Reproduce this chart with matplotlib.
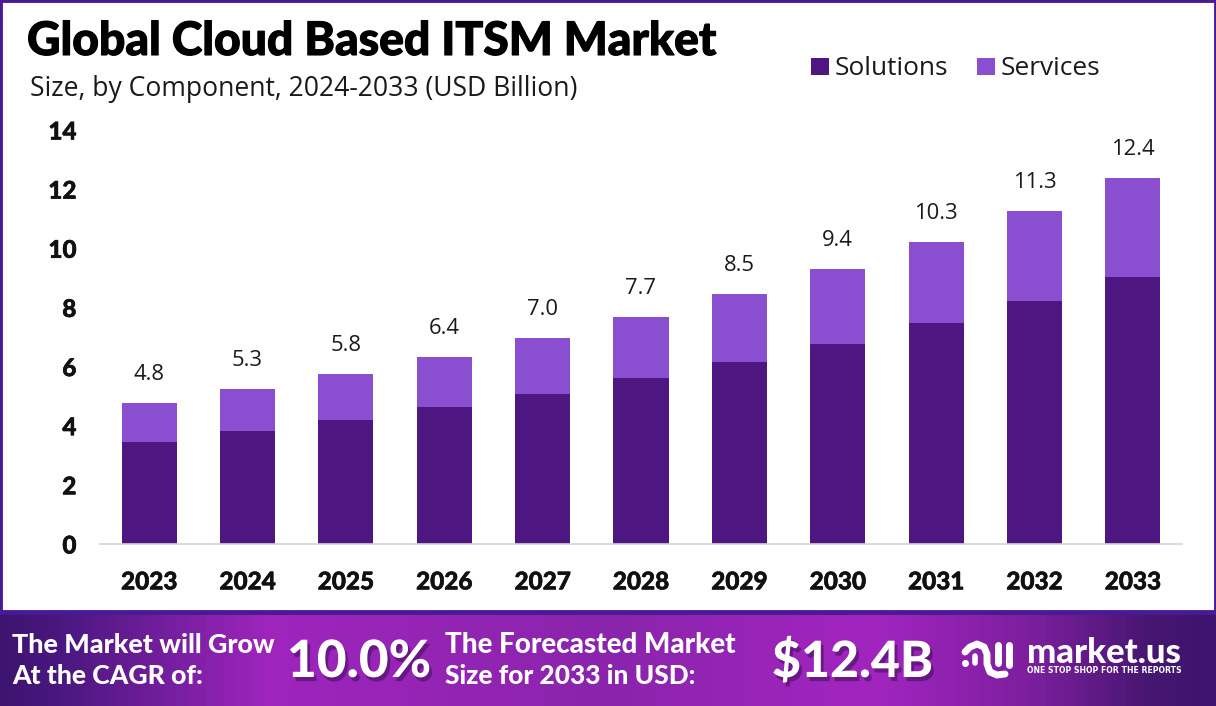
import numpy as np
import matplotlib
matplotlib.use("Agg")
import matplotlib.pyplot as plt
import matplotlib.patheffects as pe
from matplotlib.colors import LinearSegmentedColormap
from matplotlib.patches import Rectangle

years = ["2023","2024","2025","2026","2027","2028","2029","2030","2031","2032","2033"]
solutions = [3.45,3.82,4.19,4.63,5.07,5.61,6.15,6.76,7.47,8.22,9.03]
services = [1.32,1.42,1.56,1.69,1.90,2.07,2.30,2.54,2.74,3.04,3.35]
totals = ["4.8","5.3","5.8","6.4","7.0","7.7","8.5","9.4","10.3","11.3","12.4"]
yticks = [0,2,4,6,8,10,12,14]

W, H = 1216, 706
plt.rcParams['font.family'] = ['Lato', 'DejaVu Sans']
fig = plt.figure(figsize=(W/100, H/100), dpi=100, facecolor='white')

def fx(x): return x/W
def fy(y): return 1-y/H

ax = fig.add_axes([fx(100), fy(544), (1182-100)/W, (544-130)/H])
x = np.arange(len(years))
ax.bar(x, solutions, width=0.56, color='#4e1680', label='Solutions')
ax.bar(x, services, width=0.56, bottom=solutions, color='#8a4fd0', label='Services')
for xi, s, v, t in zip(x, solutions, services, totals):
    ax.text(xi, s+v+0.78, t, ha='center', va='baseline', fontsize=15.8, color='#1a1a1a', family=['Open Sans'])
ax.set_xlim(-0.5, 10.5)
ax.set_ylim(0, 14)
ax.set_yticks(yticks)
ax.set_xticks(x, years)
for side in ['top','left','right']:
    ax.spines[side].set_visible(False)
ax.spines['bottom'].set_color('#d4d4d4')
ax.spines['bottom'].set_linewidth(1.2)
ax.tick_params(length=0)
ax.tick_params(axis='x', pad=19, labelsize=17.5)
ax.tick_params(axis='y', pad=17, labelsize=17.5)
for l in ax.get_xticklabels()+ax.get_yticklabels():
    l.set_fontweight('black'); l.set_color('#111111')
    l.set_path_effects([pe.withStroke(linewidth=0.4, foreground='#111111')])

title = fig.text(fx(27), fy(55), "Global Cloud Based ITSM Market", fontsize=33.3, fontweight='black', color='black', va='baseline')
title.set_path_effects([pe.withStroke(linewidth=0.8, foreground='black')])
fig.text(fx(30), fy(96), "Size, by Component, 2024-2033 (USD Billion)", fontsize=19.1, color='#1a1a1a', va='baseline', family=['Open Sans'])

# legend
for px, c, name in [(811,'#4e1680','Solutions'),(977,'#8a4fd0','Services')]:
    fig.add_artist(Rectangle((fx(px), fy(75)), 18/W, 17/H, transform=fig.transFigure, color=c, lw=0))
    fig.text(fx(px+24), fy(75), name, fontsize=18.9, color='#1a1a1a', va='baseline', family=['Open Sans'])

# banner
bax = fig.add_axes([0, 0, 1, (H-612)/H])
cm = LinearSegmentedColormap.from_list('b', [(0,'#3d1470'),(0.05,'#4a1880'),(0.22,'#9f25bd'),(0.5,'#8a24ac'),(0.72,'#a225c0'),(0.85,'#7c1f9e'),(0.95,'#45166f'),(1,'#3d1470')])
bax.imshow(np.linspace(0,1,W)[None,:], cmap=cm, aspect='auto', extent=[0,W,H,612])
bax.set_xlim(0,W); bax.set_ylim(H,612); bax.axis('off')

shadow = [pe.SimplePatchShadow(offset=(2,-3), shadow_rgbFace='#2a0a45', alpha=0.45), pe.Normal()]
for px, py, s, fs in [(12,653,"The Market will Grow",19.4),(12,684,"At the CAGR of:",19.1),
                      (445,653,"The Forecasted Market",20),(445,684,"Size for 2033 in USD:",18.9)]:
    bax.text(px, py, s, color='white', fontsize=fs, fontweight='black', va='baseline')
for px, py, s, fs in [(287,677,"10.0%",37),(772,677,"$12.4B",36)]:
    bax.text(px, py, s, color='white', fontsize=fs, fontweight='black', va='baseline', path_effects=shadow)
bax.text(1027,663,"market.us",color='white',fontsize=25,fontweight='black',va='baseline')
bax.text(1027,673,"ONE STOP SHOP FOR THE REPORTS",color='white',fontsize=5.6,fontweight='bold',va='baseline',family=['DejaVu Sans'])

# logo mark
t = [(965,652),(970,647),(977,644),(984,647),(987,654),(987,664),(990,672),(997,675),(1005,674)]
bax.plot(*zip(*t), color='white', lw=5, solid_capstyle='round', solid_joinstyle='round')
bax.plot([975,975],[656,663], color='white', lw=4, solid_capstyle='round')
bax.plot([998,998],[645,663], color='white', lw=5, solid_capstyle='round')
bax.plot([1009,1009],[645,665], color='white', lw=5, solid_capstyle='round')
bax.plot([965],[663], color='white', lw=0, marker='o', ms=5, mfc='white', mew=0)

# border
fig.add_artist(Rectangle((0,(H-612)/H), 1, 612/H, transform=fig.transFigure, fill=False, ec='#4a1a96', lw=3.5, zorder=5))

fig.savefig("out.png", dpi=100)
